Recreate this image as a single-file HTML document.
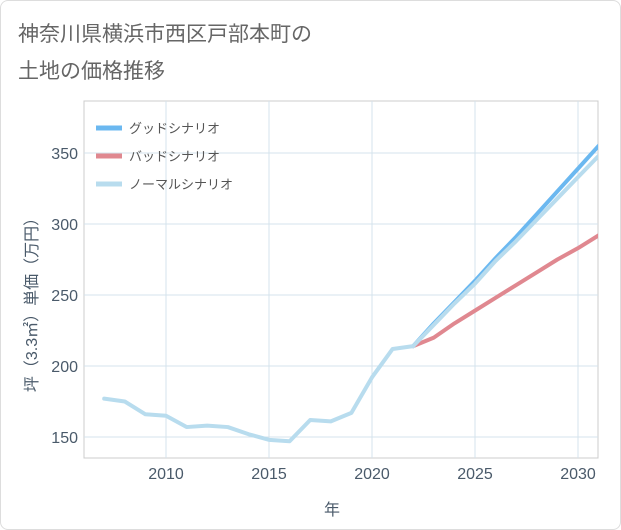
<!DOCTYPE html>
<html><head><meta charset="utf-8"><style>
body{margin:0;background:#fff;font-family:"Liberation Sans","Noto Sans CJK JP",sans-serif;}
#wrap{position:relative;width:619px;height:528px;border:1px solid #ddd;border-radius:8px;overflow:hidden;background:#fff}
</style></head><body>
<div id="wrap">
<svg id="c" width="621" height="530"></svg>
</div>
<script>
const years=[2007,2008,2009,2010,2011,2012,2013,2014,2015,2016,2017,2018,2019,2020,2021,2022];
const hist=[177,175,166,165,157,158,157,152,148,147,162,161,167,192,212,214];
const fYears=[2022,2023,2024,2025,2026,2027,2028,2029,2030,2031];
const good=[214,230,245,260,276,291,307,323,339,355];
const bad=[214,220,230,239,248,257,266,275,283,292];
const normal=[214,229,244,258,274,288,303,318,333,348];
const xTicks=[2010,2015,2020,2025,2030];
const yTicks=[150,200,250,300,350];
const NS="http://www.w3.org/2000/svg";
const svg=document.getElementById('c');
const L=83,R=597,T=100,B=457;
const x=v=>165+(v-2010)*20.6;
const y=v=>436-(v-150)*1.42;
function mk(t,a,p){const e=document.createElementNS(NS,t);for(const k in a)e.setAttribute(k,a[k]);(p||svg).appendChild(e);return e;}
function txt(s,a){const e=mk('text',a);e.textContent=s;return e;}
let t=txt('神奈川県横浜市西区戸部本町の',{x:17,y:40,'font-size':21,fill:'#666'});

t=txt('土地の価格推移',{x:17,y:77,'font-size':21,fill:'#666'});

let r=mk('rect',{x:L,y:T,width:R-L,height:B-T,fill:'none',stroke:'#ccc'});

xTicks.forEach(v=>{let g=mk('line',{x1:x(v),x2:x(v),y1:T,y2:B,stroke:'#d4e3ec'});

let l=txt(v,{x:x(v),y:478,'text-anchor':'middle','font-size':16,fill:'#4a5a6a'});
});
yTicks.forEach(v=>{let g=mk('line',{x1:L,x2:R,y1:y(v),y2:y(v),stroke:'#d4e3ec'});

let l=txt(v,{x:77,y:y(v)+6,'text-anchor':'end','font-size':16,fill:'#4a5a6a'});
});
t=txt('年',{x:331,y:514,'text-anchor':'middle','font-size':16,fill:'#4a5a6a'});

t=txt('坪（3.3㎡）単価（万円）',{x:0,y:0,'text-anchor':'middle','font-size':16,fill:'#4a5a6a',transform:'translate(36,300) rotate(-90)'});

function line(xs,vs,col,name){const d=xs.map((v,i)=>(i?'L':'M')+x(v)+','+y(vs[i])).join(' ');
const p=mk('path',{d:d,fill:'none',stroke:col,'stroke-width':4,'stroke-linejoin':'round','stroke-linecap':'round'});
}
const clip=mk('clipPath',{id:'cp'});mk('rect',{x:L,y:T,width:R-L,height:B-T},clip);
line(fYears,good,'#6bb8f0','good-scenario-line');
line(fYears,bad,'#e08890','bad-scenario-line');
line(fYears,normal,'#b8dcee','normal-scenario-line');
line(years,hist,'#b8dcee','historical-line');
svg.querySelectorAll('path').forEach(p=>p.setAttribute('clip-path','url(#cp)'));
[['グッドシナリオ','#6bb8f0'],['バッドシナリオ','#e08890'],['ノーマルシナリオ','#b8dcee']].forEach((e,i)=>{
const yy=127+i*28;
let l=mk('line',{x1:95,x2:121,y1:yy,y2:yy,stroke:e[1],'stroke-width':5});

let s=txt(e[0],{x:128,y:yy+5,'font-size':13,fill:'#555'});
});
</script>
</body></html>
